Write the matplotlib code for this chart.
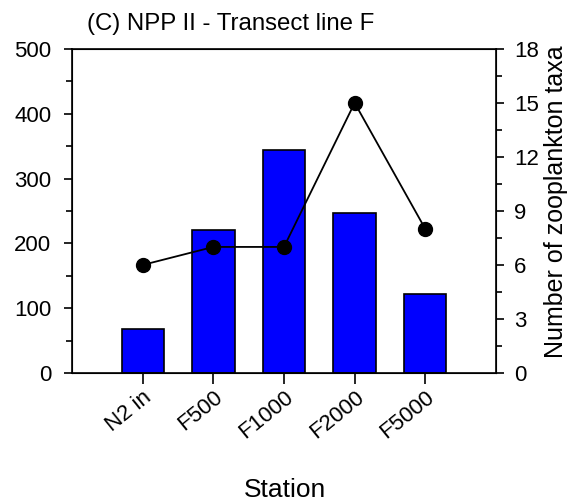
import numpy as np
import matplotlib as mpl
import matplotlib.pyplot as plt
from matplotlib.ticker import MultipleLocator

mpl.rcParams["font.family"] = ["Liberation Sans", "DejaVu Sans"]
mpl.rcParams["font.size"] = 16

# ===== Data =====
stations = ["N2 in", "F500", "F1000", "F2000", "F5000"]
abundance = [68, 221, 344, 247, 122]
n_taxa = [6, 7, 7, 15, 8]

# ===== Figure =====
fig = plt.figure(figsize=(5.72, 5.04), dpi=100)
ax = fig.add_axes([0.126, 0.26, 0.741, 0.643])
x = np.arange(1, len(stations) + 1)

ax.bar(x, abundance, width=0.6, color="#0000ff", edgecolor="black", linewidth=1.2, zorder=2)
ax.set_xlim(0, 6)
ax.set_ylim(0, 500)
ax.yaxis.set_major_locator(MultipleLocator(100))
ax.yaxis.set_minor_locator(MultipleLocator(50))
ax.set_xticks(x)
ax.set_xticklabels(stations, rotation=39, ha="right", rotation_mode="anchor")
ax.tick_params(axis="x", length=8, width=1.2, pad=2)
ax.tick_params(axis="y", which="major", length=6, width=1.2, direction="out", pad=9)
ax.tick_params(axis="y", which="minor", length=4, width=1.2, direction="out")
for s in ax.spines.values():
    s.set_linewidth(1.2)

ax2 = ax.twinx()
ax2.plot(x, n_taxa, color="black", lw=1.3, marker="o", markersize=10, zorder=3)
ax2.set_ylim(0, 18)
ax2.yaxis.set_major_locator(MultipleLocator(3))
ax2.yaxis.set_minor_locator(MultipleLocator(1.5))
ax2.tick_params(axis="y", which="major", length=6, width=1.2, pad=7)
ax2.tick_params(axis="y", which="minor", length=4, width=1.2)
ax2.set_ylabel("Number of zooplankton taxa", fontsize=18)
ax2.yaxis.set_label_coords(1.113, 0.53)

# ===== Text =====
fig.text(0.152, 0.94, "(C) NPP II - Transect line F", fontsize=17.3, ha="left", va="baseline")
fig.text(0.498, 0.014, "Station", fontsize=19, ha="center", va="baseline")

plt.savefig("out.png", dpi=100)
